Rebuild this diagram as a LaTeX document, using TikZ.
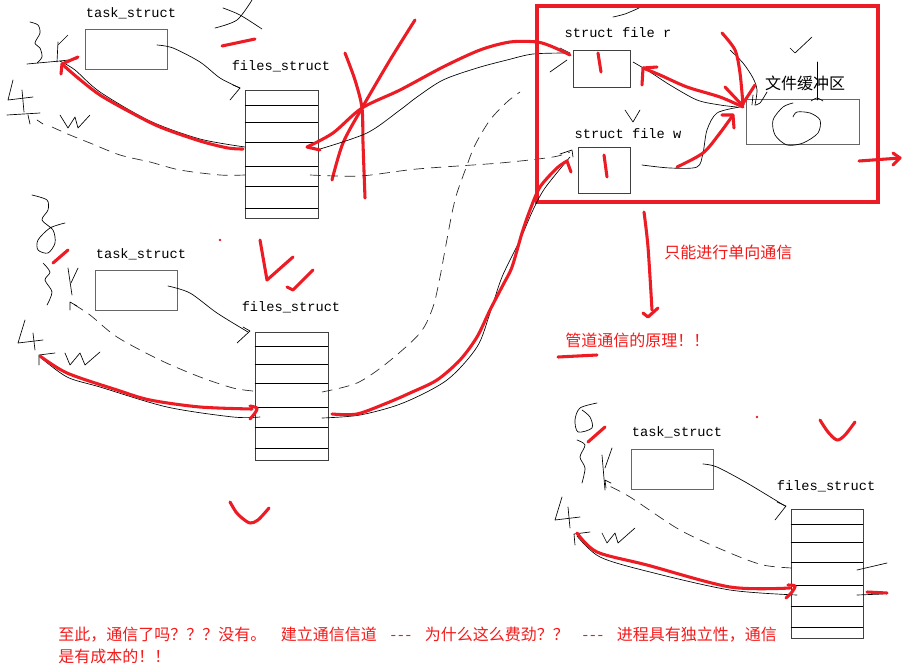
\documentclass[tikz,border=0pt]{standalone}
\usepackage{fontspec}
\newfontfamily\cjkfont{Noto Sans CJK SC}
\newfontfamily\codefont{Liberation Mono}
\definecolor{penred}{RGB}{237,28,36}
\definecolor{txtred}{RGB}{245,25,25}
\newcommand\tripdash{\makebox[36pt]{-\kern1.5pt-\kern1.5pt-}}
\begin{document}
\begin{tikzpicture}[x=0.75pt,y=-0.75pt,
 rp/.style={draw=penred,line width=2.3pt,line cap=round,line join=round},
 bp/.style={draw=black,line width=0.5pt,line cap=round,line join=round},
 dp/.style={draw=black!85,line width=0.5pt,dash pattern=on 8pt off 5pt},
 box/.style={draw=black!60,line width=0.7pt,inner sep=0,minimum width=61.5pt,minimum height=30pt},
 fbox/.style={draw=black!75,line width=0.7pt,inner sep=0},
 tbl/.style={draw=black!75,line width=0.7pt,inner sep=0,minimum width=54.75pt,minimum height=96pt},
 row/.style={draw=black,line width=0.7pt},
 lab/.style={font=\codefont\fontsize{10.25}{12}\selectfont,inner sep=0},
 cn/.style={font=\cjkfont\fontsize{12}{15}\selectfont,inner sep=0,text=txtred}]
\fill[white] (0,0) rectangle (907,668);
\useasboundingbox (0,0) rectangle (907,668);

% ================= group 1 (top left) =================
\node[lab] (t1) at (131,13) {task\_struct};
\node[box] (tb1) at (126,49) {};
\node[lab] (f1) at (281,66) {files\_struct};
\node[tbl] (F1) at (281.5,154) {};
\foreach \y in {105,122,142,166,186,208} \draw[row] (F1.west |- 0,\y) -- (F1.east |- 0,\y);
\draw[bp] plot[smooth] coordinates {(157,45)(173,48)(200,62)(220,78)(240,88)};
\draw[bp] (233,85)--(240,88)--(230,100);
% handwriting
\draw[bp] plot[smooth] coordinates {(30,22)(38,25)(40,33)(35,43)(40,48)(42,57)(37,63)};
\draw[bp] (27,64)--(60,61)--(77,59);
\draw[bp] (58,42)--(57,62); \draw[bp] (68,35)--(58,45);
\draw[bp] (13,80)--(8,100)--(33,97); \draw[bp] (22,90)--(24,112);
\draw[bp] (7,115)--(40,113); \draw[bp] (28,115)--(30,124); \draw[bp] (37,120)--(43,124);
\draw[bp] (60,115)--(68,128)--(75,117)--(78,128)--(90,115);
\draw[bp] plot[smooth] coordinates {(215,28)(237,20)(252,0)};
\draw[bp] plot[smooth] coordinates {(223,8)(240,15)(262,29)};
\draw[rp] (222,46)--(255,39);
% connections
\draw[bp] plot[smooth] coordinates {(245,147)(200,139)(150,121)(100,92)(75,70)(60,61)};
\draw[rp] plot[smooth] coordinates {(243,149)(228,148)(200,141)(160,127)(130,112)(100,95)(78,78)(62,64)};
\draw[rp] (78,57)--(62,64)--(61,74);
\draw[dp] plot[smooth] coordinates {(245,175)(220,175)(180,170)(150,162)(120,155)(90,143)(70,135)(52,127)};
\draw[rp] plot[smooth] coordinates {(415,20)(390,60)(362,108)(343,143)(332,180)};
\draw[rp] plot[smooth] coordinates {(345,53)(355,80)(362,108)(363,143)(365,198)};
\draw[bp] plot[smooth] coordinates {(320,149)(367,133)(400,110)(417,97)(443,80)(477,68)(507,60)(533,54)(567,53)};
\draw[bp] (560,48)--(570,53); \draw[bp] (550,72)--(567,60);
\draw[rp] plot[smooth] coordinates {(307,147)(333,133)(362,108)(400,90)(443,67)(480,50)(510,42)(537,42)(553,47)(570,55)};
\draw[rp] (307,147)--(320,150);
\draw[dp] plot[smooth] coordinates {(310,175)(360,176)(417,169)(500,163)(553,157)(570,152)};
\draw[bp] (560,154)--(572,150)--(573,157);

% ================= pipe box =================
\node[draw=penred,line width=2.5pt,inner sep=0,minimum width=255.75pt,minimum height=147pt] (pipe) at (707.5,104) {};
\node[lab] (fr) at (618,33) {struct file r};
\node[fbox,minimum width=42.75pt,minimum height=27.75pt] (FR) at (601.5,68.5) {};
\node[lab] (fw) at (628,134) {struct file w};
\node[fbox,minimum width=39pt,minimum height=34.5pt] (FW) at (604,170) {};
\node[font=\cjkfont\fontsize{12}{15}\selectfont,inner sep=0] (bl) at (805,83) {文件缓冲区};
\node[fbox,draw=black!60,minimum width=84.75pt,minimum height=33.75pt] (BUF) at (802.5,121.5) {};
\draw[rp] (598,53)--(601,72);
\draw[rp] (604,155)--(607,177);
\draw[bp] plot[smooth] coordinates {(633,62)(650,72)(670,85)(697,100)(720,105)(737,107)};
\draw[bp] plot[smooth] coordinates {(642,165)(670,168)(697,167)(703,153)(707,130)(717,113)(740,107)};
\draw[bp] plot[smooth] coordinates {(730,50)(743,63)(753,78)(757,90)(755,105)};
\draw[bp] (752,105)--(753,95);
\draw[bp] plot[smooth] coordinates {(755,105)(760,103)(767,92)};
\draw[bp] (817,62)--(817,100);
\draw[bp] plot[smooth] coordinates {(811,101)(817,98)(823,101)};
\draw[bp] (790,48)--(795,53)--(812,37);
\draw[bp] (625,110)--(633,122)--(640,110);
\draw[bp] plot[smooth] coordinates {(613,17)(625,14)(639,8)};
\draw[bp] plot[smooth] coordinates {(793,117)(797,112)(810,113)(820,120)(818,133)(803,143)(787,145)(775,135)(773,120)(783,107)(793,103)};
\draw[rp] plot[smooth] coordinates {(743,107)(720,97)(687,87)(660,75)(643,68)};
\draw[rp] (657,67)--(643,68)--(642,85);
\draw[rp] plot[smooth] coordinates {(722,33)(735,50)(740,73)(743,105)};
\draw[rp] (725,87)--(742,105)--(755,85);
\draw[rp] plot[smooth] coordinates {(677,167)(703,153)(720,133)(733,115)};
\draw[rp] (722,115)--(733,115)--(734,128);
\draw[rp] (859,161)--(900,158);
\draw[rp] (893,153)--(900,158)--(893,165);

% ================= notes =================
\draw[rp] plot[smooth] coordinates {(644,212)(648,247)(652,310)};
\draw[rp] (643,313)--(648,317)--(658,308);
\node[cn,anchor=west] (n1) at (664,252) {只能进行单向通信};
\node[cn,anchor=west] (n2) at (565,340) {管道通信的原理！！};
\draw[rp] (558,357)--(597,355);

% ================= group 2 (middle) =================
\node[lab] (t2) at (141,254) {task\_struct};
\node[box] (tb2) at (136,290.5) {};
\node[lab] (f2) at (291,307) {files\_struct};
\node[tbl] (F2) at (291.5,396) {};
\foreach \y in {346,364,383,407,427,448} \draw[row] (F2.west |- 0,\y) -- (F2.east |- 0,\y);
\draw[bp] plot[smooth] coordinates {(168,286)(190,293)(217,313)(248,332)};
\draw[bp] (243,327)--(250,331)--(237,343);
\draw[bp] plot[smooth] coordinates {(32,195)(47,200)(48,210)(42,220)(53,230)(55,243)(48,253)(38,250)(38,240)(50,228)(65,223)};
\draw[rp] (53,263)--(68,250);
\draw[bp] plot[smooth] coordinates {(43,263)(50,272)(45,280)(52,292)(47,305)};
\draw[bp] (68,268)--(72,295); \draw[bp] (78,268)--(71,283);
\draw[bp] (25,320)--(18,343)--(43,340); \draw[bp] (33,333)--(35,350);
\draw[bp] (65,353)--(70,365)--(80,353)--(85,365)--(100,352);
\draw[bp] (55,353)--(39,355)--(39,365);
\draw[bp] plot[smooth] coordinates {(260,417)(233,417)(167,407)(100,387)(67,377)(40,357)};
\draw[rp] plot[smooth] coordinates {(252,409)(200,407)(150,400)(117,390)(67,373)(40,356)};
\draw[rp] plot[smooth] coordinates {(250,406)(257,408)(255,413)(250,419)};
\draw[dp] plot[smooth] coordinates {(253,391)(233,388)(200,377)(160,360)(117,337)(90,315)(70,302)};
\draw[bp] (77,306)--(70,302)--(70,310);
\draw[rp] (260,240)--(267,280)--(293,257);
\draw[rp] (287,287)--(293,290)--(313,270);
\fill[penred] (220,240) circle (1pt);
\draw[dp] plot[smooth] coordinates {(322,392)(357,383)(387,363)(420,333)(433,307)(440,277)(445,250)(452,213)(457,193)(466,168)(475,145)(490,120)(507,102)(520,92)};
\draw[bp] plot[smooth] coordinates {(322,418)(360,415)(403,403)(447,380)(477,347)(490,313)(502,277)(520,240)(533,210)(545,188)(570,157)};
\draw[rp] plot[smooth] coordinates {(332,414)(357,414)(387,403)(410,393)(437,380)(460,360)(477,337)(490,310)(503,285)(512,267)(522,233)(530,210)(540,187)(557,168)(567,161)};
\draw[rp] (567,161)--(571,172);
\draw[rp] plot[smooth] coordinates {(230,502)(236,512)(242,518)(250,523)(258,520)(269,508)};

% ================= group 3 (bottom right) =================
\node[lab] (t3) at (677,432) {task\_struct};
\node[box] (tb3) at (672,469) {};
\node[lab] (f3) at (826,486) {files\_struct};
\node[tbl,minimum width=54pt,minimum height=96.75pt] (F3) at (827,573.5) {};
\foreach \y in {524,542,562,585,606,627} \draw[row] (F3.west |- 0,\y) -- (F3.east |- 0,\y);
\draw[bp] plot[smooth] coordinates {(703,464)(717,467)(747,483)(785,506)};
\draw[bp] (777,502)--(786,506)--(775,520);
\draw[bp] plot[smooth] coordinates {(597,403)(580,408)(575,420)(578,432)(592,428)(590,417)(582,410)};
\draw[rp] (588,442)--(605,427);
\draw[bp] plot[smooth] coordinates {(577,440)(585,445)(580,457)(585,468)(582,483)};
\draw[bp] (612,448)--(605,468); \draw[bp] (602,455)--(605,490);
\draw[bp] (611,483)--(605,480)--(606,488);
\draw[bp] (562,497)--(555,520)--(580,517); \draw[bp] (568,507)--(570,528);
\draw[bp] (602,533)--(607,543)--(615,533)--(618,543)--(635,528);
\draw[bp] (590,532)--(574,534)--(575,545);
\draw[bp] plot[smooth] coordinates {(797,595)(730,590)(650,572)(600,557)(577,536)};
\draw[rp] plot[smooth] coordinates {(790,588)(730,587)(647,565)(597,552)(577,533)};
\draw[rp] plot[smooth] coordinates {(788,585)(795,586)(792,592)(786,598)};
\draw[dp] plot[smooth] coordinates {(792,568)(763,565)(730,553)(680,530)(630,497)(607,485)};
\draw[bp] (857,570)--(887,563);
\draw[bp] (857,595)--(883,594);
\draw[rp] (867,592)--(887,593);
\draw[rp] plot[smooth] coordinates {(820,420)(828,432)(837,440)(845,435)(855,422)};
\fill[penred] (757,417) circle (1pt);

% ================= bottom text =================
\node[cn,anchor=west] (b1) at (58,635) {至此，通信了吗？？？没有。\hspace{11pt}建立通信信道\tripdash 为什么这么费劲？？\tripdash 进程具有独立性，通信};
\node[cn,anchor=west] (b2) at (58,656) {是有成本的！！};
\end{tikzpicture}
\end{document}
